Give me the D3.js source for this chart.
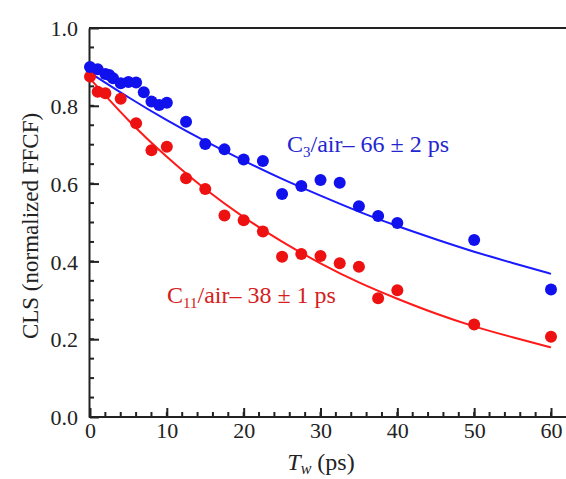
<!DOCTYPE html>
<html>
<head>
<meta charset="utf-8">
<script src="https://cdn.jsdelivr.net/npm/d3@7"></script>
<style>
  body { margin: 0; background: #fff; }
  .axis path, .axis line { stroke: #222; stroke-width: 2; }
  .axis text { font-size: 22px; fill: #222; }
</style>
</head>
<body>
<div class="chart"></div>
<script>
// measured points
var c3Time = [0, 1, 2, 2.5, 3, 4, 5, 6, 7, 8, 9, 10, 12.5, 15, 17.5, 20, 22.5, 25, 27.5, 30, 32.5, 35, 37.5, 40, 50, 60];
var c3Cls  = [0.900, 0.894, 0.882, 0.879, 0.871, 0.858, 0.861, 0.860, 0.835, 0.811, 0.802, 0.808, 0.759, 0.702, 0.688, 0.662, 0.658, 0.573, 0.594, 0.609, 0.602, 0.542, 0.517, 0.499, 0.455, 0.328];

var c11Time = [0, 1, 2, 4, 6, 8, 10, 12.5, 15, 17.5, 20, 22.5, 25, 27.5, 30, 32.5, 35, 37.5, 40, 50, 60];
var c11Cls  = [0.875, 0.836, 0.832, 0.818, 0.755, 0.686, 0.695, 0.614, 0.586, 0.518, 0.506, 0.477, 0.412, 0.419, 0.414, 0.395, 0.386, 0.305, 0.326, 0.238, 0.206];

// fit curves
var fitTime = [0, 5, 10, 15, 20, 25, 30, 35, 40, 45, 50, 55, 60];
var c3Fit   = [0.885, 0.822, 0.763, 0.709, 0.659, 0.612, 0.569, 0.528, 0.491, 0.457, 0.425, 0.396, 0.368];
var c11Fit  = [0.870, 0.763, 0.669, 0.586, 0.514, 0.451, 0.395, 0.346, 0.304, 0.266, 0.233, 0.205, 0.179];

var xTicks = [0, 10, 20, 30, 40, 50, 60];
var yTicks = [0.0, 0.2, 0.4, 0.6, 0.8, 1.0];

var serif = "'Liberation Serif', 'Times New Roman', Times, 'DejaVu Serif', serif";

var svgWidth = 566;
var svgHeight = 479;

var svg = d3.select(".chart")
  .append("svg")
    .attr("width", svgWidth)
    .attr("height", svgHeight)
    .style("font-family", serif);

var x = d3.scaleLinear().domain([0, 60]).range([90, 551]);
var y = d3.scaleLinear().domain([0, 1]).range([417, 28]);

// frame: top line
svg.append("line")
  .attr("x1", 89).attr("x2", svgWidth)
  .attr("y1", y(1)).attr("y2", y(1))
  .attr("stroke", "#222").attr("stroke-width", 2);

// minor ticks
var xMinor = d3.range(0, 61, 2);
var yMinor = d3.range(0, 1.001, 0.05);
svg.append("g").selectAll("line")
  .data(xMinor)
  .enter().append("line")
    .attr("x1", function(d) { return x(d); })
    .attr("x2", function(d) { return x(d); })
    .attr("y1", y(0)).attr("y2", y(0) - 5)
    .attr("stroke", "#222").attr("stroke-width", 2);
svg.append("g").selectAll("line")
  .data(yMinor)
  .enter().append("line")
    .attr("x1", 89).attr("x2", 94)
    .attr("y1", function(d) { return y(d); })
    .attr("y2", function(d) { return y(d); })
    .attr("stroke", "#222").attr("stroke-width", 2);

var bottomAxis = d3.axisBottom(x).tickValues(xTicks).tickSizeInner(-9).tickSizeOuter(0).tickPadding(8);
var leftAxis = d3.axisLeft(y).tickValues(yTicks).tickFormat(d3.format(".1f")).tickSizeInner(-9).tickSizeOuter(0).tickPadding(11);

var gx = svg.append("g")
  .attr("class", "axis")
  .attr("transform", "translate(0," + y(0) + ")")
  .call(bottomAxis)
  .attr("font-family", serif);
gx.select(".domain").attr("d", "M89,0H" + svgWidth);
gx.selectAll(".tick text").attr("y", 5).attr("dy", "0.71em");

var gy = svg.append("g")
  .attr("class", "axis")
  .attr("transform", "translate(89,0)")
  .call(leftAxis)
  .attr("font-family", serif);
gy.selectAll(".tick line").attr("transform", "translate(1,0)");
gy.selectAll(".tick text").attr("dy", "0.35em");

// fit lines
var line = d3.line()
  .x(function(d) { return x(d[0]); })
  .y(function(d) { return y(d[1]); })
  .curve(d3.curveNatural);

svg.append("path")
  .datum(d3.zip(fitTime, c3Fit))
  .attr("d", line)
  .attr("fill", "none")
  .attr("stroke", "#1a1aff")
  .attr("stroke-width", 2);

svg.append("path")
  .datum(d3.zip(fitTime, c11Fit))
  .attr("d", line)
  .attr("fill", "none")
  .attr("stroke", "#ff1a1a")
  .attr("stroke-width", 2);

// points
svg.append("g").selectAll("circle")
  .data(d3.zip(c11Time, c11Cls))
  .enter().append("circle")
    .attr("cx", function(d) { return x(d[0]); })
    .attr("cy", function(d) { return y(d[1]); })
    .attr("r", 6)
    .attr("fill", "#ee1111");

svg.append("g").selectAll("circle")
  .data(d3.zip(c3Time, c3Cls))
  .enter().append("circle")
    .attr("cx", function(d) { return x(d[0]); })
    .attr("cy", function(d) { return y(d[1]); })
    .attr("r", 6)
    .attr("fill", "#1111ee");

// series labels
var blueLabel = svg.append("text")
  .attr("x", 287).attr("y", 152)
  .attr("font-size", 24)
  .attr("fill", "#2525d0");
blueLabel.append("tspan").text("C");
blueLabel.append("tspan").attr("font-size", 15).attr("dy", 5).text("3");
blueLabel.append("tspan").attr("dy", -5).text("/air\u2013 66 \u00b1 2 ps");

var redLabel = svg.append("text")
  .attr("x", 167).attr("y", 303)
  .attr("font-size", 24)
  .attr("fill", "#d42020");
redLabel.append("tspan").text("C");
redLabel.append("tspan").attr("font-size", 15).attr("dy", 5).text("11");
redLabel.append("tspan").attr("dy", -5).text("/air\u2013 38 \u00b1 1 ps");

// axis titles
var xTitle = svg.append("text")
  .attr("x", 321).attr("y", 470)
  .attr("text-anchor", "middle")
  .attr("font-size", 24)
  .attr("fill", "#222");
xTitle.append("tspan").attr("font-style", "italic").text("T");
xTitle.append("tspan").attr("font-style", "italic").attr("font-size", 16).attr("dy", 4).text("w");
xTitle.append("tspan").attr("dy", -4).text(" (ps)");

svg.append("text")
  .attr("transform", "translate(38," + 226 + ") rotate(-90)")
  .attr("text-anchor", "middle")
  .attr("font-size", 23)
  .attr("fill", "#222")
  .text("CLS (normalized FFCF)");
</script>
</body>
</html>
